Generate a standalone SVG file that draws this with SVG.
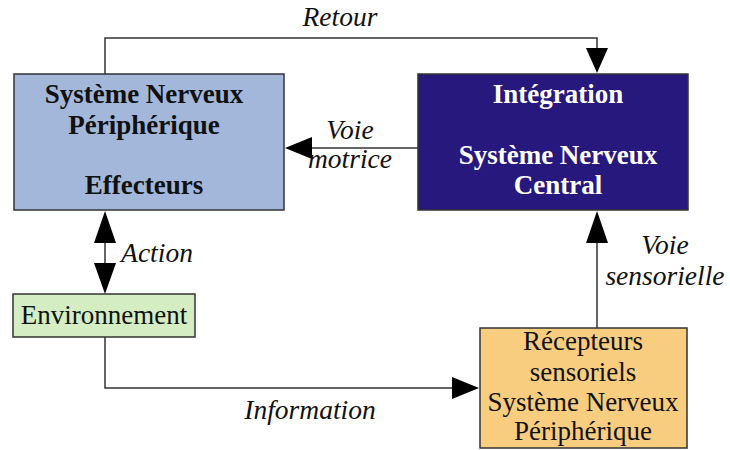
<svg xmlns="http://www.w3.org/2000/svg" width="730" height="450" viewBox="0 0 730 450">
  <defs>
    <style>
      .box { stroke: #333; stroke-width: 1.5; }
      .edge { fill: none; stroke: #333; stroke-width: 1.5; }
      .head { fill: #000; }
      text { font-family: "Liberation Serif", "Times New Roman", serif; font-size: 27px; text-anchor: middle; fill: #111; }
      .b { font-weight: bold; }
      .w { fill: #fff; }
      .lbl { font-style: italic; font-size: 27.5px; }
    </style>
  </defs>
  <rect width="730" height="450" fill="#fff"/>

  <g id="connectors">
    <!-- Retour -->
    <polyline class="edge" points="105,74 105,38 597,38 597,50"/>
    <path class="head" d="M586,48 L608,48 L597,73 Z"/>
    <!-- Voie motrice -->
    <line class="edge" x1="418" y1="148" x2="310" y2="148"/>
    <path class="head" d="M312,137 L312,159 L285,148 Z"/>
    <!-- Action (double) -->
    <line class="edge" x1="105" y1="235" x2="105" y2="270"/>
    <path class="head" d="M94,243 L116,243 L105,211 Z"/>
    <path class="head" d="M94,263 L116,263 L105,294 Z"/>
    <!-- Information -->
    <polyline class="edge" points="105,337 105,388 455,388"/>
    <path class="head" d="M452,377 L452,399 L479,388 Z"/>
    <!-- Voie sensorielle -->
    <line class="edge" x1="597" y1="328" x2="597" y2="240"/>
    <path class="head" d="M586,243 L608,243 L597,211 Z"/>
  </g>

  <g id="labels">
    <text class="lbl" x="340" y="26">Retour</text>
    <text class="lbl" x="350" y="139">Voie</text>
    <text class="lbl" x="350" y="168">motrice</text>
    <text class="lbl" x="157" y="262">Action</text>
    <text class="lbl" x="310" y="419">Information</text>
    <text class="lbl" x="665" y="254">Voie</text>
    <text class="lbl" x="665" y="285">sensorielle</text>
  </g>

  <g id="snp-effecteurs">
    <rect class="box" x="14" y="74" width="270" height="136" fill="#a3b7da"/>
    <text class="b" x="144" y="103">Système Nerveux</text>
    <text class="b" x="144" y="134">Périphérique</text>
    <text class="b" x="144" y="194">Effecteurs</text>
  </g>

  <g id="integration-snc">
    <rect class="box" x="418" y="74" width="270" height="136" fill="#27187e"/>
    <text class="b w" x="558" y="103">Intégration</text>
    <text class="b w" x="558" y="164">Système Nerveux</text>
    <text class="b w" x="558" y="194">Central</text>
  </g>

  <g id="environnement">
    <rect class="box" x="13" y="294" width="182" height="43" fill="#d4edc2"/>
    <text x="104" y="324">Environnement</text>
  </g>

  <g id="recepteurs">
    <rect class="box" x="480" y="328" width="207" height="120" fill="#f8cd80"/>
    <text x="583" y="350">Récepteurs</text>
    <text x="583" y="381">sensoriels</text>
    <text x="583" y="411">Système Nerveux</text>
    <text x="583" y="440">Périphérique</text>
  </g>
</svg>
